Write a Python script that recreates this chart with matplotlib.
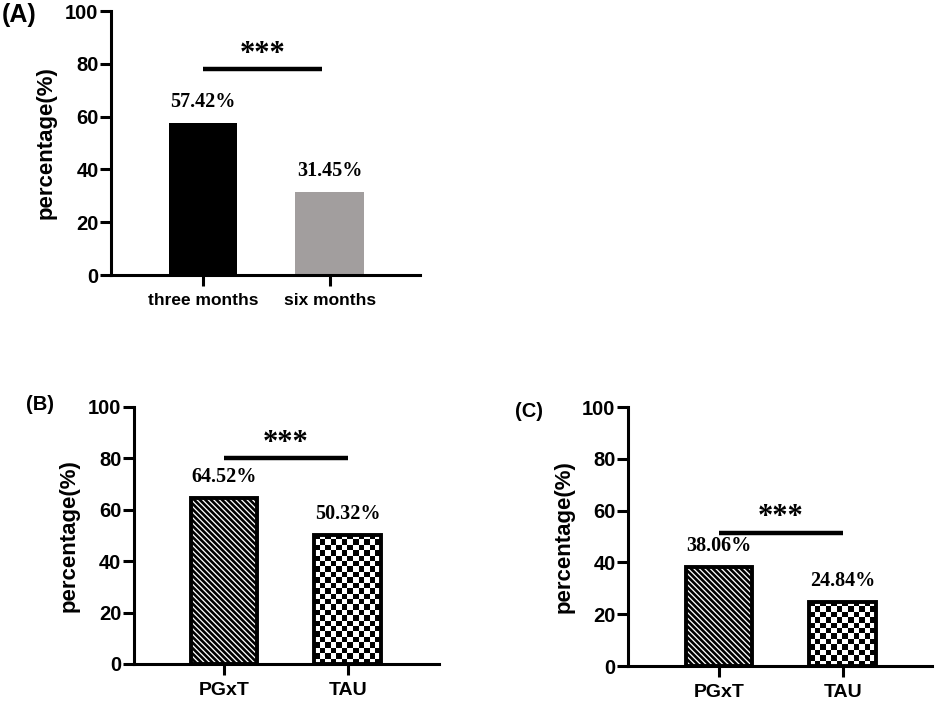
import numpy as np
import matplotlib
matplotlib.use("Agg")
import matplotlib.pyplot as plt

# ---- data ----
a_groups = ["three months", "six months"]
a_values = [57.42, 31.45]
a_colors = ["#000000", "#a29e9e"]

b_groups = ["PGxT", "TAU"]
b_values = [64.52, 50.32]

c_groups = ["PGxT", "TAU"]
c_values = [38.06, 24.84]

y_ticks = [0, 20, 40, 60, 80, 100]
sig_text = "***"

plt.rcParams["font.family"] = ["Liberation Sans", "DejaVu Sans"]
plt.rcParams["font.weight"] = "bold"
plt.rcParams["hatch.linewidth"] = 1.9

SERIF = ["Liberation Serif", "DejaVu Serif"]


def style_axes(ax, groups, xlim, xfs):
    ax.set_ylim(0, 100)
    ax.set_xlim(*xlim)
    ax.set_yticks(y_ticks)
    ax.set_xticks(range(len(groups)))
    ax.set_xticklabels(groups, fontsize=xfs, fontweight="bold")
    for lab in ax.get_yticklabels():
        lab.set_fontsize(14.5)
        lab.set_fontweight("bold")
    for s in ["top", "right"]:
        ax.spines[s].set_visible(False)
    for s in ["left", "bottom"]:
        ax.spines[s].set_linewidth(2.2)
    ax.tick_params(axis="y", length=8, width=2.2, pad=1)
    ax.tick_params(axis="x", length=8, width=2.2, pad=5)
    ax.set_ylabel("percentage(%)", fontsize=16, fontweight="bold")
    ax.yaxis.set_label_coords(-0.177, 0.5)


def value_labels(ax, bars, values):
    for b, v in zip(bars, values):
        ax.annotate(f"{v:.2f}%", xy=(b.get_x() + b.get_width() / 2, v),
                    xytext=(0, 8), textcoords="offset points",
                    ha="center", va="bottom", fontsize=14.5,
                    fontweight="bold", family=SERIF)


def sig_bar(ax, x0, x1, y):
    ax.plot([x0, x1], [y, y], color="black", lw=3.2, solid_capstyle="butt")
    ax.text((x0 + x1) / 2, y + 0.2, sig_text, ha="center", va="bottom",
            fontsize=22, fontweight="bold", family=SERIF)


def checker_bar(ax, bar, cell_px=5.4):
    fig = ax.figure
    fig.canvas.draw()
    bb = bar.get_window_extent()
    nx = max(1, int(round(bb.width / cell_px)))
    ny = max(1, int(round(bb.height / cell_px)))
    grid = (np.add.outer(np.arange(ny), np.arange(nx)) % 2).astype(float)
    x0 = bar.get_x()
    x1 = x0 + bar.get_width()
    im = ax.imshow(grid, cmap="gray", interpolation="nearest", aspect="auto",
                   extent=(x0, x1, 0, bar.get_height()), zorder=2)
    im.set_clip_path(bar)
    ax.set_aspect("auto")


def hatched_panel(ax, groups, values, xlim, sig_y):
    x = np.arange(len(groups))
    bars = ax.bar(x, values, width=0.54, color="white", edgecolor="none", zorder=1)
    # PGxT: diagonal stripes
    bars[0].set_hatch("\\\\\\\\\\\\")
    bars[0].set_edgecolor("black")
    bars[0].set_linewidth(0)
    style_axes(ax, groups, xlim, 14)
    # TAU: checkerboard
    checker_bar(ax, bars[1])
    # outline on top
    ax.bar(x, values, width=0.54, facecolor="none", edgecolor="black",
           linewidth=2.8, zorder=3)
    value_labels(ax, bars, values)
    sig_bar(ax, 0, 1, sig_y)


fig = plt.figure(figsize=(9.41, 7.03), dpi=100)

# Panel A
axA = fig.add_axes([0.118, 0.6088, 0.328, 0.3755])
barsA = axA.bar(range(len(a_groups)), a_values, width=0.54, color=a_colors)
style_axes(axA, a_groups, (-0.724, 1.709), 12.5)
value_labels(axA, barsA, a_values)
sig_bar(axA, 0, 0.94, 78)
fig.text(0.002, 0.978, "(A)", fontsize=18, fontweight="bold", va="center")

# Panel B
axB = fig.add_axes([0.1424, 0.0555, 0.324, 0.3656])
hatched_panel(axB, b_groups, b_values, (-0.726, 1.734), 80)
fig.text(0.028, 0.424, "(B)", fontsize=14.5, fontweight="bold", va="center")

# Panel C
axC = fig.add_axes([0.6674, 0.0526, 0.323, 0.3684])
hatched_panel(axC, c_groups, c_values, (-0.734, 1.718), 51.5)
fig.text(0.547, 0.415, "(C)", fontsize=14.5, fontweight="bold", va="center")

fig.savefig("out.png", dpi=100)
